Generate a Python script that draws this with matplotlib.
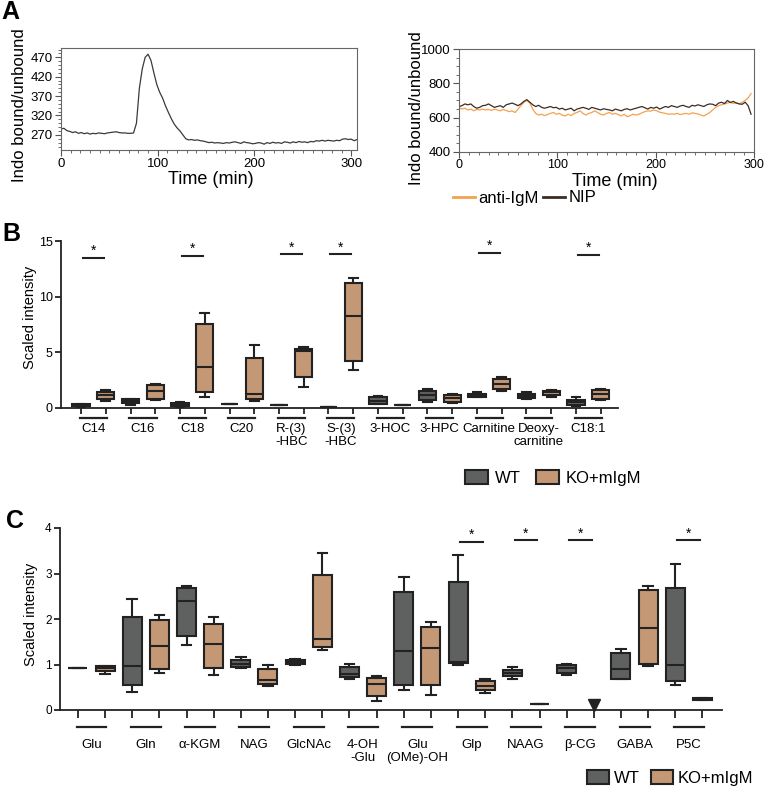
import numpy as np
import matplotlib
matplotlib.use('Agg')
import matplotlib.pyplot as plt
from matplotlib.patches import Patch
from matplotlib.lines import Line2D
from matplotlib.ticker import MultipleLocator

plt.rcParams['font.family'] = ['Liberation Sans', 'DejaVu Sans']
NARROW = ['Liberation Sans Narrow', 'Liberation Sans', 'DejaVu Sans']

# ---------------- data ----------------
# panel A, left: Indo ratio, one point every 3 min
a_time = np.arange(0, 307, 3)
a_trace = [285, 287, 281, 279, 276, 278, 274, 276, 273, 275,
           272, 274, 273, 275, 274, 273, 275, 276, 277, 278,
           276, 275, 275, 274, 274, 275, 300, 390, 440, 470,
           478, 462, 430, 400, 380, 365, 345, 328, 312, 298,
           288, 280, 270, 260, 257, 258, 256, 257, 255, 254,
           252, 250, 251, 249, 250, 249, 248, 250, 249, 251,
           252, 250, 248, 252, 250, 249, 247, 248, 250, 249,
           246, 250, 248, 251, 249, 250, 248, 252, 251, 249,
           252, 250, 253, 251, 252, 250, 253, 252, 255, 254,
           256, 254, 256, 255, 254, 256, 255, 259, 260, 258,
           259, 255, 258]

# panel A, right
a2_time = np.arange(0, 298, 3)
anti_igm = [660, 650, 655, 645, 650, 640, 648, 645, 650, 645,
            648, 642, 650, 645, 640, 648, 642, 635, 640, 630,
            650, 670, 690, 700, 685, 650, 625, 615, 620, 612,
            618, 625, 630, 620, 625, 615, 610, 620, 612, 625,
            630, 640, 625, 615, 625, 630, 640, 630, 620, 615,
            625, 630, 620, 625, 618, 610, 620, 605, 612, 620,
            615, 620, 628, 635, 640, 638, 645, 640, 632, 628,
            625, 620, 622, 620, 625, 618, 622, 625, 620, 628,
            625, 622, 615, 610, 620, 630, 645, 660, 670, 675,
            680, 685, 690, 682, 688, 680, 690, 700, 715, 740]
nip = [665, 670, 680, 675, 680, 665, 655, 660, 670, 672,
       680, 670, 660, 665, 670, 660, 675, 680, 685, 678,
       670, 680, 695, 705, 690, 675, 665, 672, 660, 655,
       660, 665, 658, 660, 650, 655, 645, 650, 655, 640,
       650, 655, 660, 655, 648, 660, 655, 650, 645, 652,
       648, 645, 640, 650, 645, 640, 648, 652, 645, 650,
       655, 660, 665, 658, 650, 660, 655, 662, 650, 658,
       665, 660, 670, 665, 660, 668, 672, 665, 660, 672,
       668, 675, 670, 665, 675, 680, 678, 670, 685, 690,
       682, 700, 688, 695, 685, 680, 678, 690, 670, 620]

# panel B: box stats, WT then KO+mIgM for each metabolite
b_groups = ['C14', 'C16', 'C18', 'C20', 'R-(3)\n-HBC', 'S-(3)\n-HBC', '3-HOC',
            '3-HPC', 'Carnitine', 'Deoxy-\ncarnitine', 'C18:1']
b_lo = [0.10, 0.60, 0.25, 0.70, 0.00, 1.00, 0.38, 0.65, 0.30, 1.85, 0.08,
        3.45, 0.35, 0.25, 0.50, 0.45, 0.95, 1.55, 0.80, 1.00, 0.15, 0.75]
b_q1 = [0.15, 0.85, 0.45, 0.85, 0.20, 1.40, 0.38, 0.85, 0.30, 2.75, 0.08,
        4.25, 0.40, 0.25, 0.70, 0.55, 1.00, 1.75, 0.90, 1.20, 0.30, 0.85]
b_med = [0.25, 1.20, 0.65, 1.50, 0.35, 3.65, 0.38, 1.30, 0.30, 5.15, 0.10,
         8.25, 0.65, 0.25, 1.15, 0.90, 1.10, 2.15, 1.10, 1.40, 0.55, 1.25]
b_q3 = [0.35, 1.45, 0.80, 2.05, 0.45, 7.55, 0.38, 4.50, 0.30, 5.30, 0.12,
        11.25, 0.95, 0.25, 1.55, 1.15, 1.25, 2.60, 1.25, 1.55, 0.75, 1.60]
b_hi = [0.40, 1.60, 0.85, 2.15, 0.50, 8.50, 0.38, 5.70, 0.30, 5.45, 0.12,
        11.65, 1.05, 0.25, 1.75, 1.30, 1.45, 2.80, 1.40, 1.60, 0.95, 1.75]
b_sig = ['C14', 'C18', 'R-(3)\n-HBC', 'S-(3)\n-HBC', 'Carnitine', 'C18:1']
b_sig_y = [13.5, 13.65, 13.8, 13.8, 13.9, 13.75]

# panel C
c_groups = ['Glu', 'Gln', 'α-KGM', 'NAG', 'GlcNAc', '4-OH\n-Glu', 'Glu\n(OMe)-OH',
            'Glp', 'NAAG', 'β-CG', 'GABA', 'P5C']
nan = np.nan
c_lo = [0.93, 0.80, 0.40, 0.82, 1.42, 0.77, 0.93, 0.52, 0.98, 1.32, 0.68, 0.20,
        0.45, 0.32, 1.00, 0.38, 0.69, 0.13, 0.76, nan, 0.68, 0.96, 0.56, 0.22]
c_q1 = [0.93, 0.85, 0.55, 0.90, 1.62, 0.93, 0.95, 0.57, 1.02, 1.38, 0.72, 0.30,
        0.55, 0.55, 1.03, 0.43, 0.74, 0.13, 0.82, nan, 0.69, 1.02, 0.63, 0.23]
c_med = [0.93, 0.92, 0.97, 1.40, 2.40, 1.45, 1.02, 0.65, 1.06, 1.57, 0.80, 0.58,
         1.30, 1.36, 1.05, 0.53, 0.82, 0.13, 0.93, nan, 0.91, 1.80, 0.98, 0.24]
c_q3 = [0.93, 0.97, 2.05, 1.97, 2.68, 1.90, 1.10, 0.90, 1.10, 2.97, 0.95, 0.70,
        2.60, 1.83, 2.81, 0.63, 0.89, 0.13, 0.99, nan, 1.26, 2.63, 2.69, 0.26]
c_hi = [0.93, 0.97, 2.45, 2.08, 2.72, 2.05, 1.17, 1.00, 1.13, 3.45, 1.02, 0.75,
        2.93, 1.93, 3.41, 0.68, 0.94, 0.13, 1.02, nan, 1.34, 2.72, 3.21, 0.27]
c_not_detected = {'β-CG': 0.1}   # drawn as a triangle
c_sig = ['Glp', 'NAAG', 'β-CG', 'P5C']
c_sig_y = [3.69, 3.73, 3.73, 3.73]

# ---------------- style ----------------
WT_COL = '#5f6161'
KO_COL = '#c49874'
EDGE = '#222222'

W, H = 766, 788
fig = plt.figure(figsize=(W / 100, H / 100), dpi=100)


def add_ax(l, t, r, b):
    return fig.add_axes([l / W, 1 - b / H, (r - l) / W, (b - t) / H])


def style_trace_ax(ax):
    for s in ax.spines.values():
        s.set_color('#666666')
        s.set_linewidth(0.8)
    ax.tick_params(which='major', direction='out', length=4, width=0.8,
                   color='#555555', labelsize=9.5, pad=2)
    ax.tick_params(which='minor', direction='out', length=2, width=0.6, color='#555555')


# ---- A left
ax1 = add_ax(61, 48, 357, 150)
ax1.plot(a_time, a_trace, color='#3a3a3a', lw=0.9)
ax1.set_xlim(0, 306)
ax1.set_ylim(231, 494)
ax1.set_yticks([270, 320, 370, 420, 470])
ax1.set_xticks([0, 100, 200, 300])
ax1.xaxis.set_minor_locator(MultipleLocator(10))
ax1.yaxis.set_minor_locator(MultipleLocator(10))
style_trace_ax(ax1)
fig.text(20 / W, 1 - 105 / H, 'Indo bound/unbound', rotation=90, ha='center', va='center', fontsize=12)
fig.text(211 / W, 1 - 180 / H, 'Time (min)', ha='center', va='center', fontsize=13)

# ---- A right
ax2 = add_ax(459, 49, 754, 152)
ax2.plot(a2_time, anti_igm, color='#f4a24e', lw=0.9)
ax2.plot(a2_time, nip, color='#3d2b25', lw=0.9)
ax2.set_xlim(0, 300)
ax2.set_ylim(400, 1000)
ax2.set_yticks([400, 600, 800, 1000])
ax2.set_xticks([0, 100, 200, 300])
ax2.xaxis.set_minor_locator(MultipleLocator(10))
ax2.yaxis.set_minor_locator(MultipleLocator(50))
style_trace_ax(ax2)
ax2.tick_params(axis='x', labelsize=9, pad=1)
fig.text(416 / W, 1 - 108 / H, 'Indo bound/unbound', rotation=90, ha='center', va='center', fontsize=12)
fig.text(615 / W, 1 - 181 / H, 'Time (min)', ha='center', va='center', fontsize=13)
fig.legend([Line2D([], [], color='#f4a24e', lw=2), Line2D([], [], color='#3d2b25', lw=2)],
           ['anti-IgM', 'NIP'], loc='center left', bbox_to_anchor=(453 / W, 1 - 198 / H),
           ncol=2, frameon=False, fontsize=12, handlelength=1.3, handletextpad=0.2,
           columnspacing=0.3, borderpad=0, borderaxespad=0)


# ---- box panels
def box_panel(ax, groups, lo, q1, med, q3, hi, sig, sig_y, tick_len, label_y, line_y,
              label_font, label_size, nd=None):
    n = len(lo)
    stats, pos, cols = [], [], []
    for i in range(n):
        if np.isnan(lo[i]):
            continue
        stats.append(dict(whislo=lo[i], q1=q1[i], med=med[i], q3=q3[i], whishi=hi[i]))
        pos.append(i)
        cols.append(WT_COL if i % 2 == 0 else KO_COL)
    bp = ax.bxp(stats, positions=pos, widths=0.7, patch_artist=True, showfliers=False,
                manage_ticks=False, capwidths=0.35,
                boxprops=dict(edgecolor=EDGE, linewidth=1.5),
                medianprops=dict(color=EDGE, linewidth=1.5),
                whiskerprops=dict(color=EDGE, linewidth=1.5),
                capprops=dict(color=EDGE, linewidth=1.5))
    for patch, c in zip(bp['boxes'], cols):
        patch.set_facecolor(c)
    if nd:
        for g, v in nd.items():
            ax.plot(2 * groups.index(g) + 1, v, marker='v', ms=8, color=EDGE, clip_on=False)

    for g, yv in zip(sig, sig_y):
        xc = 2 * groups.index(g) + 0.5
        ax.plot([xc - 0.42, xc + 0.42], [yv, yv], color=EDGE, lw=1.5)
        ax.text(xc, yv, '*', ha='center', va='bottom', fontsize=10)

    trans = ax.get_xaxis_transform()
    for gi, g in enumerate(groups):
        x0, x1 = 2 * gi, 2 * gi + 1
        ax.plot([x0 - 0.05, x1 + 0.05], [line_y, line_y], color=EDGE, lw=1.6,
                transform=trans, clip_on=False)
        ax.text(x0 + 0.5, label_y, g, transform=trans, ha='center', va='top',
                fontsize=label_size, family=label_font, linespacing=1.15)

    ax.set_xticks(range(n))
    ax.set_xticklabels([])
    ax.tick_params(axis='x', direction='out', length=tick_len, width=1.3, color=EDGE)
    ax.tick_params(axis='y', direction='out', length=4, width=1.3, color=EDGE, pad=2)
    for s in ['top', 'right']:
        ax.spines[s].set_visible(False)
    for s in ['left', 'bottom']:
        ax.spines[s].set_linewidth(1.3)
        ax.spines[s].set_color(EDGE)


# ---- B
axb = add_ax(61, 241, 618, 408)
box_panel(axb, b_groups, b_lo, b_q1, b_med, b_q3, b_hi, b_sig, b_sig_y,
          tick_len=4, label_y=-0.09, line_y=-0.06, label_font=['Liberation Sans', 'DejaVu Sans'],
          label_size=9.5)
axb.set_xlim(-0.81, 21.7)
axb.set_ylim(0, 15)
axb.set_yticks([0, 5, 10, 15])
axb.tick_params(axis='y', labelsize=9)
fig.text(30 / W, 1 - 317 / H, 'Scaled intensity', rotation=90, ha='center', va='center', fontsize=10.5)
fig.legend([Patch(facecolor=WT_COL, edgecolor=EDGE, lw=1.5), Patch(facecolor=KO_COL, edgecolor=EDGE, lw=1.5)],
           ['WT', 'KO+mIgM'], loc='center left', bbox_to_anchor=(465 / W, 1 - 478 / H),
           ncol=2, frameon=False, fontsize=12, handlelength=1.4, handleheight=0.9,
           handletextpad=0.4, columnspacing=0.9, borderpad=0, borderaxespad=0)

# ---- C
axc = add_ax(60, 528, 722, 710)
box_panel(axc, c_groups, c_lo, c_q1, c_med, c_q3, c_hi, c_sig, c_sig_y,
          tick_len=5.5, label_y=-0.16, line_y=-0.095, label_font=NARROW, label_size=9.5,
          nd=c_not_detected)
axc.set_xlim(-0.66, 23.72)
axc.set_ylim(0, 4)
axc.set_yticks([0, 1, 2, 3, 4])
axc.tick_params(axis='y', labelsize=8.5)
for t in axc.get_yticklabels():
    t.set_family(NARROW)
fig.text(31 / W, 1 - 614 / H, 'Scaled intensity', rotation=90, ha='center', va='center', fontsize=10.5)
fig.legend([Patch(facecolor=WT_COL, edgecolor=EDGE, lw=1.5), Patch(facecolor=KO_COL, edgecolor=EDGE, lw=1.5)],
           ['WT', 'KO+mIgM'], loc='center left', bbox_to_anchor=(587 / W, 1 - 778 / H),
           ncol=2, frameon=False, handlelength=1.3, handleheight=0.9,
           handletextpad=0.3, columnspacing=0.7, borderpad=0, borderaxespad=0,
           prop=dict(family=NARROW, size=12))

# panel letters
fig.text(1 / W, 1 - 0 / H, 'A', fontsize=18, fontweight='bold', va='top', ha='left')
fig.text(2 / W, 1 - 222 / H, 'B', fontsize=18, fontweight='bold', va='top', ha='left')
fig.text(6 / W, 1 - 509 / H, 'C', fontsize=18, fontweight='bold', va='top', ha='left')

fig.savefig('out.png', dpi=100)
